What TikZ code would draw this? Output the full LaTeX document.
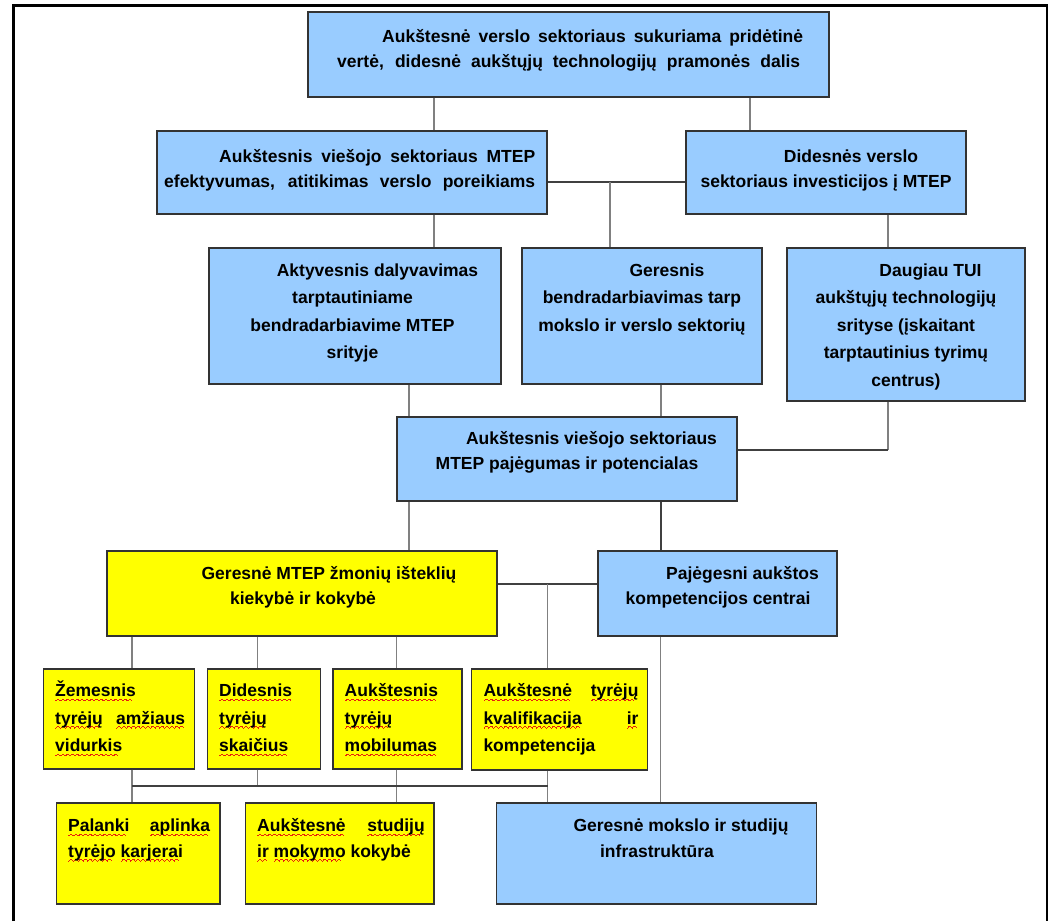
\documentclass[tikz,border=0pt]{standalone}
\usepackage{fontspec}
\setmainfont{Liberation Sans}
\usepackage{xcolor}
\definecolor{boxblue}{HTML}{99CCFF}
\definecolor{boxyellow}{HTML}{FFFF00}
\definecolor{linegray}{HTML}{808080}
\definecolor{linedark}{HTML}{404040}
\definecolor{waveRed}{HTML}{E8200B}
\newsavebox\sqbox
\newcommand\wavepiece{\hbox{\rule[0pt]{0.8pt}{0.8pt}\rule[0.6pt]{0.8pt}{0.8pt}\rule[1.2pt]{0.8pt}{0.8pt}\rule[1.6pt]{0.8pt}{0.8pt}\rule[1.2pt]{0.8pt}{0.8pt}\rule[0.6pt]{0.8pt}{0.8pt}}}
\newcommand\sq[1]{\sbox\sqbox{#1}\rlap{\raisebox{-4.2pt}[0pt][0pt]{\hbox to \wd\sqbox{\color{waveRed}\leaders\wavepiece\hfill}}}\usebox\sqbox}
\newcommand\js[2]{\makebox[#1][s]{#2}}
\begin{document}
\begin{tikzpicture}[x=1pt,y=-1pt,
  boxst/.style={draw=black!80, line width=1.1pt, inner sep=0pt, rectangle},
  bluebox/.style={boxst, fill=boxblue},
  yelbox/.style={boxst, fill=boxyellow},
  txt/.style={inner sep=0pt, font=\bfseries\fontsize{17.5}{27.5}\selectfont, anchor=base},
  txtb/.style={inner sep=0pt, font=\bfseries\fontsize{17.5}{25.5}\selectfont, anchor=base},
  ctxt/.style={txt, align=center},
  ctxtb/.style={txtb, align=center},
  ltxt/.style={txt, align=left, anchor=base west},
  ltxtb/.style={txtb, align=left, anchor=base west},
  conn/.style={draw=linegray, line width=1.3pt},
  connd/.style={draw=linedark, line width=1.5pt}]
\useasboundingbox (0,0) rectangle (1057,921);
% frame
\draw[line width=2.3pt] (13.5,921) -- (13.5,5.5) -- (1047,5.5) -- (1047,921);
% boxes
\node[bluebox, minimum width=521pt, minimum height=85pt] (T1) at (568.5,54.5) {};
\node[bluebox, minimum width=390pt, minimum height=83pt] (A) at (352,172.5) {};
\node[bluebox, minimum width=280pt, minimum height=83pt] (B) at (826,172.5) {};
\node[bluebox, minimum width=292pt, minimum height=136pt] (C) at (355,316) {};
\node[bluebox, minimum width=240pt, minimum height=136pt] (D) at (642,316) {};
\node[bluebox, minimum width=238pt, minimum height=153pt] (E) at (906,324.5) {};
\node[bluebox, minimum width=340pt, minimum height=84pt] (F) at (567,459) {};
\node[yelbox, minimum width=390pt, minimum height=85pt] (G) at (302,593.5) {};
\node[bluebox, minimum width=239pt, minimum height=85pt] (H) at (717.5,593.5) {};
\node[yelbox, minimum width=151pt, minimum height=100pt] (I1) at (119,719) {};
\node[yelbox, minimum width=113pt, minimum height=100pt] (I2) at (264,719) {};
\node[yelbox, minimum width=129pt, minimum height=100pt] (I3) at (397.5,719) {};
\node[yelbox, minimum width=176pt, minimum height=101pt] (I4) at (559.5,719.5) {};
\node[yelbox, minimum width=163.5pt, minimum height=101pt] (J1) at (138.25,853.5) {};
\node[yelbox, minimum width=188.5pt, minimum height=101pt] (J2) at (339.75,853.5) {};
\node[bluebox, minimum width=320pt, minimum height=101pt] (J3) at (656.5,853.5) {};
% junction coordinates
\coordinate (ab) at (610,182);
\coordinate (ef) at (888,450);
\coordinate (gh) at (547.7,584);
\coordinate (busL) at (132,786);
\coordinate (busM) at (257.7,786);
\coordinate (busR) at (547.7,786);
% connectors
\draw[conn] (T1.south -| 434,0) -- (A.north -| 434,0);
\draw[conn] (T1.south -| 750,0) -- (B.north -| 750,0);
\draw[connd] (A.east |- ab) -- (B.west |- ab);
\draw[conn] (ab) -- (D.north -| ab);
\draw[conn] (A.south -| 434,0) -- (C.north -| 434,0);
\draw[conn] (B.south -| ef) -- (E.north -| ef);
\draw[conn] (C.south -| 409,0) -- (F.north -| 409,0);
\draw[conn] (D.south -| 661,0) -- (F.north -| 661,0);
\draw[conn] (E.south -| ef) -- (ef);
\draw[connd] (ef) -- (F.east |- ef);
\draw[conn] (F.south -| 409,0) -- (G.north -| 409,0);
\draw[connd] (F.south -| 661,0) -- (H.north -| 661,0);
\draw[connd] (G.east |- gh) -- (H.west |- gh);
\draw[conn] (gh) -- (I4.north -| gh);
\draw[conn] (G.south -| busL) -- (I1.north -| busL);
\draw[conn] (G.south -| busM) -- (I2.north -| busM);
\draw[conn] (G.south -| 396.3,0) -- (I3.north -| 396.3,0);
\draw[conn] (I1.south -| busL) -- (J1.north -| busL);
\draw[conn] (I2.south -| busM) -- (busM);
\draw[conn] (I3.south -| 396.3,0) -- (J2.north -| 396.3,0);
\draw[conn] (I4.south -| busR) -- (J3.north -| busR);
\draw[connd] (busL) -- (busR);
\draw[conn] (H.south -| 660.7,0) -- (J3.north -| 660.7,0);
% texts (anchor = baseline of the last line)
\node[ltxtb] (tT1) at (337,67.5) {\hspace*{45pt}\js{421pt}{Aukštesnė verslo sektoriaus sukuriama pridėtinė}\\\js{463pt}{vertė, didesnė aukštųjų technologijų pramonės dalis}};
\node[ltxtb] (tA) at (164,187.5) {\hspace*{55pt}\js{316pt}{Aukštesnis viešojo sektoriaus MTEP}\\\js{371pt}{efektyvumas, atitikimas verslo poreikiams}};
\node[ctxtb] (tB) at (826,187.5) {\hspace*{50pt}Didesnės verslo\\sektoriaus investicijos į MTEP};
\node[ctxt] (tC) at (352.5,358.5) {\hspace*{50pt}Aktyvesnis dalyvavimas\\tarptautiniame\\bendradarbiavime MTEP\\srityje};
\node[ctxt] (tD) at (642,331) {\hspace*{50pt}Geresnis\\bendradarbiavimas tarp\\mokslo ir verslo sektorių};
\node[ctxt] (tE) at (906,386) {\hspace*{49pt}Daugiau TUI\\aukštųjų technologijų\\srityse (įskaitant\\tarptautinius tyrimų\\centrus)};
\node[ctxtb] (tF) at (567,469.5) {\hspace*{49pt}Aukštesnis viešojo sektoriaus\\MTEP pajėgumas ir potencialas};
\node[ctxtb] (tG) at (303,604.5) {\hspace*{52pt}Geresnė MTEP žmonių išteklių\\kiekybė ir kokybė};
\node[ctxtb] (tH) at (718,604.5) {\hspace*{49pt}Pajėgesni aukštos\\kompetencijos centrai};
\node[ltxt] (tI1) at (55,751.7) {\sq{Žemesnis}\\\js{130pt}{\sq{tyrėjų} \sq{amžiaus}}\\\sq{vidurkis}};
\node[ltxt] (tI2) at (219,751.7) {\sq{Didesnis}\\\sq{tyrėjų}\\\sq{skaičius}};
\node[ltxt] (tI3) at (344.5,751.7) {\sq{Aukštesnis}\\\sq{tyrėjų}\\\sq{mobilumas}};
\node[ltxt] (tI4) at (483.3,751.7) {\js{155pt}{\sq{Aukštesnė} \sq{tyrėjų}}\\\js{155pt}{\sq{kvalifikacija} \sq{ir}}\\kompetencija};
\node[ltxtb] (tJ1) at (68,857.2) {\js{142pt}{\sq{Palanki} \sq{aplinka}}\\\sq{tyrėjo} \sq{karjerai}};
\node[ltxtb] (tJ2) at (257,857.2) {\js{167.5pt}{\sq{Aukštesnė} \sq{studijų}}\\\sq{ir} \sq{mokymo} kokybė};
\node[ctxtb] (tJ3) at (657,857.2) {\hspace*{48pt}Geresnė mokslo ir studijų\\infrastruktūra};
\end{tikzpicture}
\end{document}
